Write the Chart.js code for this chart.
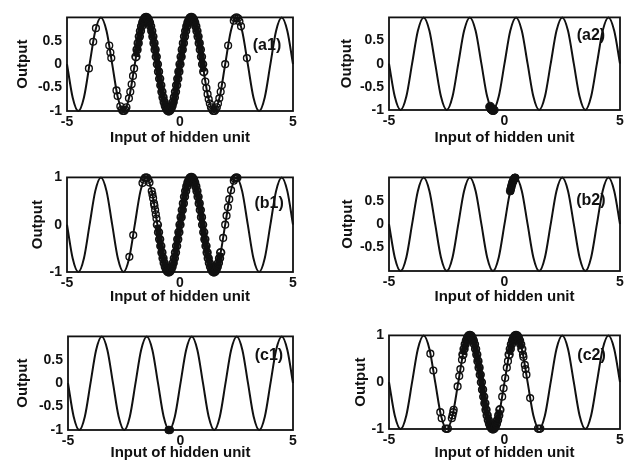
<!DOCTYPE html>
<html>
<head>
<meta charset="utf-8">
<script src="https://cdn.jsdelivr.net/npm/chart.js@4.4.0/dist/chart.umd.min.js"></script>
<style>
  html, body { margin: 0; padding: 0; background: #fff; }
  body { width: 637px; height: 471px; position: relative; overflow: hidden; }
  .panel { position: absolute; }
</style>
</head>
<body>
<div class="panel" id="p-a1"><canvas id="c-a1"></canvas></div>
<div class="panel" id="p-a2"><canvas id="c-a2"></canvas></div>
<div class="panel" id="p-b1"><canvas id="c-b1"></canvas></div>
<div class="panel" id="p-b2"><canvas id="c-b2"></canvas></div>
<div class="panel" id="p-c1"><canvas id="c-c1"></canvas></div>
<div class="panel" id="p-c2"><canvas id="c-c2"></canvas></div>
<script>
// hidden unit curve, read at quarter steps
const curveX = [-5, -4.75, -4.5, -4.25, -4, -3.75, -3.5, -3.25, -3, -2.75, -2.5, -2.25, -2, -1.75, -1.5, -1.25, -1, -0.75, -0.5, -0.25, 0,
  0.25, 0.5, 0.75, 1, 1.25, 1.5, 1.75, 2, 2.25, 2.5, 2.75, 3, 3.25, 3.5, 3.75, 4, 4.25, 4.5, 4.75, 5];
const curveY = [0, -0.71, -1, -0.71, 0, 0.71, 1, 0.71, 0, -0.71, -1, -0.71, 0, 0.71, 1, 0.71, 0, -0.71, -1, -0.71, 0,
  0.71, 1, 0.71, 0, -0.71, -1, -0.71, 0, 0.71, 1, 0.71, 0, -0.71, -1, -0.71, 0, 0.71, 1, 0.71, 0];

const xTicks = [-5, 0, 5];
const yTicksA1 = [0.5, 0, -0.5, -1];
const yTicksA2 = [0.5, 0, -0.5, -1];
const yTicksB1 = [1, 0, -1];
const yTicksB2 = [0.5, 0, -0.5];
const yTicksC1 = [0.5, 0, -0.5, -1];
const yTicksC2 = [1, 0, -1];

// (a1) samples
const a1SparseX = [-4.03, -3.84, -3.72, -3.13, -3.08, -3.04, -2.81, -2.76, -2.64, -2.58, -2.53, -2.47, -2.42, -2.37, -2.26, -2.2, -2.14, -2.08, -2.03,
  1.12, 1.17, 1.22, 1.27, 1.32, 1.37, 1.42, 1.47, 1.53, 1.58, 1.63, 1.68, 1.74, 1.8, 1.85, 2.0, 2.13, 2.38, 2.43, 2.5, 2.57, 2.63, 2.7, 2.96];
const a1SparseY = [-0.09, 0.48, 0.77, 0.4, 0.25, 0.13, -0.56, -0.68, -0.9, -0.97, -1, -1, -0.97, -0.92, -0.73, -0.59, -0.43, -0.25, -0.09,
  -0.37, -0.51, -0.64, -0.75, -0.84, -0.92, -0.97, -1, -1, -0.97, -0.92, -0.84, -0.73, -0.59, -0.45, 0, 0.4, 0.93, 0.98, 1, 0.98, 0.91, 0.81, 0.13];
const a1DenseX = [-1.95, -1.9, -1.85, -1.8, -1.75, -1.7, -1.65, -1.6, -1.55, -1.5, -1.45, -1.4, -1.35, -1.3, -1.25, -1.2, -1.15, -1.1, -1.05, -1,
  -0.95, -0.9, -0.85, -0.8, -0.75, -0.7, -0.65, -0.6, -0.55, -0.5, -0.45, -0.4, -0.35, -0.3, -0.25, -0.2, -0.15, -0.1, -0.05, 0,
  0.05, 0.1, 0.15, 0.2, 0.25, 0.3, 0.35, 0.4, 0.45, 0.5, 0.55, 0.6, 0.65, 0.7, 0.75, 0.8, 0.85, 0.9, 0.95, 1, 1.05];
const a1DenseY = [0.16, 0.31, 0.45, 0.59, 0.71, 0.81, 0.89, 0.95, 0.99, 1, 0.99, 0.95, 0.89, 0.81, 0.71, 0.59, 0.45, 0.31, 0.16, 0,
  -0.16, -0.31, -0.45, -0.59, -0.71, -0.81, -0.89, -0.95, -0.99, -1, -0.99, -0.95, -0.89, -0.81, -0.71, -0.59, -0.45, -0.31, -0.16, 0,
  0.16, 0.31, 0.45, 0.59, 0.71, 0.81, 0.89, 0.95, 0.99, 1, 0.99, 0.95, 0.89, 0.81, 0.71, 0.59, 0.45, 0.31, 0.16, 0, -0.16];

// (a2) samples
const a2BlobX = [-0.62, -0.57, -0.52, -0.47];
const a2BlobY = [-0.93, -0.98, -1, -1];

// (b1) samples
const b1SparseX = [-2.24, -2.07, -1.66, -1.6, -1.55, -1.5, -1.45, -1.4, -1.35, -1.25, -1.22, -1.19, -1.15, -1.13, -1.1, -1.07, -1.04,
  1.91, 2.0, 2.06, 2.12, 2.18, 2.26, 2.38, 2.42, 2.46, 2.5, 2.54];
const b1SparseY = [-0.68, -0.22, 0.88, 0.95, 0.99, 1, 0.99, 0.95, 0.89, 0.71, 0.64, 0.56, 0.45, 0.4, 0.31, 0.22, 0.13,
  -0.28, 0, 0.19, 0.37, 0.54, 0.73, 0.93, 0.97, 0.99, 1, 0.99];
const b1DenseX = [-1, -0.95, -0.9, -0.85, -0.8, -0.75, -0.7, -0.65, -0.6, -0.55, -0.5, -0.45, -0.4, -0.35, -0.3, -0.25, -0.2, -0.15, -0.1, -0.05, 0,
  0.05, 0.1, 0.15, 0.2, 0.25, 0.3, 0.35, 0.4, 0.45, 0.5, 0.55, 0.6, 0.65, 0.7, 0.75, 0.8, 0.85, 0.9, 0.95, 1,
  1.05, 1.1, 1.15, 1.2, 1.25, 1.3, 1.35, 1.4, 1.45, 1.5, 1.55, 1.6, 1.65, 1.7, 1.75, 1.8];
const b1DenseY = [0, -0.16, -0.31, -0.45, -0.59, -0.71, -0.81, -0.89, -0.95, -0.99, -1, -0.99, -0.95, -0.89, -0.81, -0.71, -0.59, -0.45, -0.31, -0.16, 0,
  0.16, 0.31, 0.45, 0.59, 0.71, 0.81, 0.89, 0.95, 0.99, 1, 0.99, 0.95, 0.89, 0.81, 0.71, 0.59, 0.45, 0.31, 0.16, 0,
  -0.16, -0.31, -0.45, -0.59, -0.71, -0.81, -0.89, -0.95, -0.99, -1, -0.99, -0.95, -0.89, -0.81, -0.71, -0.59];

// (b2) samples
const b2BlobX = [0.25, 0.28, 0.31, 0.34, 0.37, 0.4, 0.43, 0.46];
const b2BlobY = [0.71, 0.77, 0.83, 0.88, 0.92, 0.95, 0.98, 0.99];

// (c1) samples
const c1BlobX = [-0.53, -0.47];
const c1BlobY = [-1, -1];

// (c2) samples
const c2SparseX = [-3.21, -3.08, -2.78, -2.72, -2.55, -2.5, -2.45, -2.28, -2.25, -2.22, -2.2, -2.03, -1.96, -1.91, -1.84,
  -0.1, -0.04, 0.03, 0.1, 0.15, 0.8, 0.82, 0.88, 0.91, 0.95, 1.11, 1.45, 1.5, 1.55];
const c2SparseY = [0.61, 0.25, -0.64, -0.77, -0.99, -1, -0.99, -0.77, -0.71, -0.64, -0.59, -0.09, 0.13, 0.28, 0.48,
  -0.31, -0.13, 0.09, 0.31, 0.45, 0.59, 0.54, 0.37, 0.28, 0.16, -0.34, -0.99, -1, -0.99];
const c2DenseX = [-1.8, -1.75, -1.7, -1.65, -1.6, -1.55, -1.5, -1.45, -1.4, -1.35, -1.3, -1.25, -1.2, -1.15, -1.1, -1.05, -1,
  -0.95, -0.9, -0.85, -0.8, -0.75, -0.7, -0.65, -0.6, -0.55, -0.5, -0.45, -0.4, -0.35, -0.3, -0.25, -0.2];
const c2DenseY = [0.59, 0.71, 0.81, 0.89, 0.95, 0.99, 1, 0.99, 0.95, 0.89, 0.81, 0.71, 0.59, 0.45, 0.31, 0.16, 0,
  -0.16, -0.31, -0.45, -0.59, -0.71, -0.81, -0.89, -0.95, -0.99, -1, -0.99, -0.95, -0.89, -0.81, -0.71, -0.59];
const c2Dense2X = [0.2, 0.25, 0.3, 0.35, 0.4, 0.45, 0.5, 0.55, 0.6, 0.65, 0.7, 0.75];
const c2Dense2Y = [0.59, 0.71, 0.81, 0.89, 0.95, 0.99, 1, 0.99, 0.95, 0.89, 0.81, 0.71];

const INK = "#111";
const FONT = "'Liberation Sans', Arial, Helvetica, sans-serif";

function pts(xs, ys) {
  return xs.map((x, i) => ({ x: x, y: ys[i] }));
}

const framePlugin = {
  id: "frame",
  afterDatasetsDraw(chart) {
    const a = chart.chartArea;
    const ctx = chart.ctx;
    ctx.save();
    ctx.strokeStyle = INK;
    ctx.lineWidth = 1.8;
    ctx.strokeRect(a.left, a.top, a.right - a.left, a.bottom - a.top);
    ctx.restore();
  },
  afterDraw(chart) {
    const tag = chart.options.plugins.panelTag;
    if (!tag || !tag.text) return;
    const ctx = chart.ctx;
    ctx.save();
    ctx.fillStyle = INK;
    ctx.font = "bold 16px " + FONT;
    ctx.textAlign = "center";
    ctx.textBaseline = "middle";
    ctx.fillText(tag.text, chart.scales.x.getPixelForValue(tag.x), chart.scales.y.getPixelForValue(tag.y));
    ctx.restore();
  },
};

function curveSet() {
  return {
    data: pts(curveX, curveY),
    showLine: true,
    borderColor: INK,
    borderWidth: 2,
    pointRadius: 0,
    cubicInterpolationMode: "monotone",
    clip: 6,
    order: 2,
  };
}

function sparseSet(xs, ys) {
  return {
    data: pts(xs, ys),
    showLine: false,
    pointRadius: 3.4,
    pointBorderWidth: 1.4,
    pointBorderColor: INK,
    pointBackgroundColor: "rgba(255,255,255,0)",
    clip: 8,
    order: 0,
  };
}

function denseSet(xs, ys) {
  return {
    data: pts(xs, ys),
    showLine: true,
    borderColor: INK,
    borderWidth: 6,
    pointRadius: 3.8,
    pointBorderWidth: 1.8,
    pointBorderColor: INK,
    pointBackgroundColor: "rgba(255,255,255,0)",
    clip: 8,
    order: 1,
  };
}

function blobSet(xs, ys, r) {
  return {
    data: pts(xs, ys),
    showLine: false,
    pointRadius: r,
    pointBorderWidth: 1,
    pointBorderColor: INK,
    pointBackgroundColor: INK,
    clip: false,
    order: 0,
  };
}

// box = [left, top, right, bottom] of the plot frame in page pixels
function makePanel(name, box, yW, xH, yTicks, datasets, tag) {
  const padTop = 10;
  const padRight = 10;
  const div = document.getElementById("p-" + name);
  div.style.left = box[0] - yW + "px";
  div.style.top = box[1] - padTop + "px";
  div.style.width = yW + (box[2] - box[0]) + padRight + "px";
  div.style.height = padTop + (box[3] - box[1]) + xH + "px";

  new Chart(document.getElementById("c-" + name), {
    type: "scatter",
    data: { datasets: datasets },
    options: {
      responsive: true,
      maintainAspectRatio: false,
      animation: false,
      events: [],
      layout: { padding: { top: padTop, right: padRight, left: 0, bottom: 0 } },
      plugins: {
        legend: { display: false },
        tooltip: { enabled: false },
        panelTag: tag,
      },
      scales: {
        x: {
          type: "linear",
          min: -5,
          max: 5,
          grid: { display: false, drawTicks: false },
          border: { display: false },
          afterBuildTicks: (s) => {
            s.ticks = xTicks.map((v) => ({ value: v }));
          },
          afterFit: (s) => {
            s.height = xH;
          },
          ticks: {
            padding: 3,
            color: INK,
            font: { family: FONT, size: 14, weight: "bold" },
            callback: (v) => String(v),
          },
          title: {
            display: true,
            text: "Input of hidden unit",
            color: INK,
            padding: 0,
            font: { family: FONT, size: 15, weight: "bold" },
          },
        },
        y: {
          type: "linear",
          min: -1,
          max: 1,
          grid: { display: false, drawTicks: false },
          border: { display: false },
          afterBuildTicks: (s) => {
            s.ticks = yTicks.map((v) => ({ value: v }));
          },
          afterFit: (s) => {
            s.width = yW;
          },
          ticks: {
            padding: 5,
            color: INK,
            font: { family: FONT, size: 14, weight: "bold" },
            callback: (v) => String(v),
          },
          title: {
            display: true,
            text: "Output",
            color: INK,
            padding: 0,
            font: { family: FONT, size: 15, weight: "bold" },
          },
        },
      },
    },
    plugins: [framePlugin],
  });
}

document.addEventListener("DOMContentLoaded", function () {
  if (typeof Chart === "undefined") return;

  makePanel("a1", [67, 14, 293, 111], 53, 36, yTicksA1,
    [sparseSet(a1SparseX, a1SparseY), denseSet(a1DenseX, a1DenseY), curveSet()],
    { text: "(a1)", x: 3.85, y: 0.4 });

  makePanel("a2", [389, 14, 620, 110], 51, 37, yTicksA2,
    [blobSet(a2BlobX, a2BlobY, 4.5), curveSet()],
    { text: "(a2)", x: 3.74, y: 0.61 });

  makePanel("b1", [67, 174, 293, 272], 38, 34, yTicksB1,
    [sparseSet(b1SparseX, b1SparseY), denseSet(b1DenseX, b1DenseY), curveSet()],
    { text: "(b1)", x: 3.94, y: 0.44 });

  makePanel("b2", [389, 174, 620, 271], 50, 35, yTicksB2,
    [blobSet(b2BlobX, b2BlobY, 4), curveSet()],
    { text: "(b2)", x: 3.74, y: 0.5 });

  makePanel("c1", [68, 333, 293, 430], 54, 32, yTicksC1,
    [blobSet(c1BlobX, c1BlobY, 3.8), curveSet()],
    { text: "(c1)", x: 3.93, y: 0.58 });

  makePanel("c2", [389, 332, 620, 429], 37, 33, yTicksC2,
    [sparseSet(c2SparseX, c2SparseY), denseSet(c2DenseX, c2DenseY), denseSet(c2Dense2X, c2Dense2Y), curveSet()],
    { text: "(c2)", x: 3.77, y: 0.56 });
});
</script>
</body>
</html>
